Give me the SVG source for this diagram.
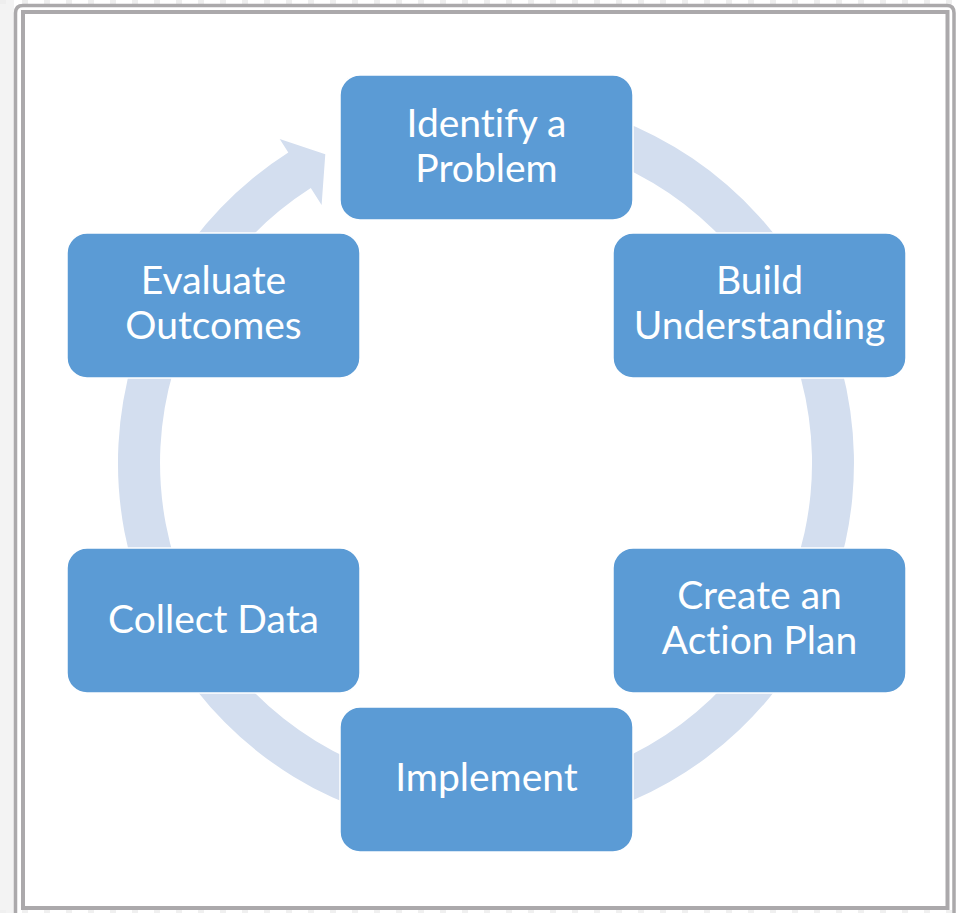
<svg xmlns="http://www.w3.org/2000/svg" width="957" height="913" viewBox="0 0 957 913">
  <style>
    .box { fill: #5b9bd5; stroke: #ffffff; stroke-width: 1.5; }
    .label { fill: #ffffff; font-family: Lato, "Open Sans", "Liberation Sans", sans-serif; font-size: 39px; text-anchor: middle; font-variant-ligatures: none; font-feature-settings: "liga" 0, "clig" 0; }
    .frame { fill: none; stroke: #aba9ab; }
  </style>

  <!-- page background and frame -->
  <rect x="0" y="0" width="957" height="913" fill="#ffffff"/>
  <rect x="0" y="0" width="14" height="913" fill="#f3f3f3"/>
  <line x1="0" y1="2" x2="957" y2="2" stroke="#eeeeee" stroke-width="4" stroke-dasharray="6 16"/>
  <line x1="0" y1="911.5" x2="957" y2="911.5" stroke="#f0f0f0" stroke-width="3" stroke-dasharray="6 16"/>
  <path class="frame" stroke-width="3.5" d="M15.5 913 V13 Q15.5 5.5 23 5.5 H947 Q954 5.5 954 13 V913"/>
  <rect class="frame" stroke-width="4" x="23" y="12" width="924.5" height="896"/>

  <!-- cycle arrow -->
  <g id="connectors">
    <path fill="#d3deef" d="M486 95 A368 368 0 1 1 288.3 152.6 L279.7 139.1 L325.3 154.3 L321.6 204.9 L310.8 188.1 A326 326 0 1 0 486 137 Z"/>
  </g>

  <g id="identify">
    <rect class="box" x="340" y="75" width="293" height="145" rx="20"/>
    <text class="label" x="486.5" y="137">Identify a</text>
    <text class="label" x="486.5" y="182">Problem</text>
  </g>
  <g id="build">
    <rect class="box" x="613" y="233" width="293" height="145" rx="20"/>
    <text class="label" x="759.5" y="294">Build</text>
    <text class="label" x="759.5" y="339">Understanding</text>
  </g>
  <g id="plan">
    <rect class="box" x="613" y="548" width="293" height="145" rx="20"/>
    <text class="label" x="759.5" y="609">Create an</text>
    <text class="label" x="759.5" y="654">Action Plan</text>
  </g>
  <g id="implement">
    <rect class="box" x="340" y="707" width="293" height="145" rx="20"/>
    <text class="label" x="486.5" y="791">Implement</text>
  </g>
  <g id="collect">
    <rect class="box" x="67" y="548" width="293" height="145" rx="20"/>
    <text class="label" x="213.5" y="633">Collect Data</text>
  </g>
  <g id="evaluate">
    <rect class="box" x="67" y="233" width="293" height="145" rx="20"/>
    <text class="label" x="213.5" y="294">Evaluate</text>
    <text class="label" x="213.5" y="339">Outcomes</text>
  </g>
</svg>
